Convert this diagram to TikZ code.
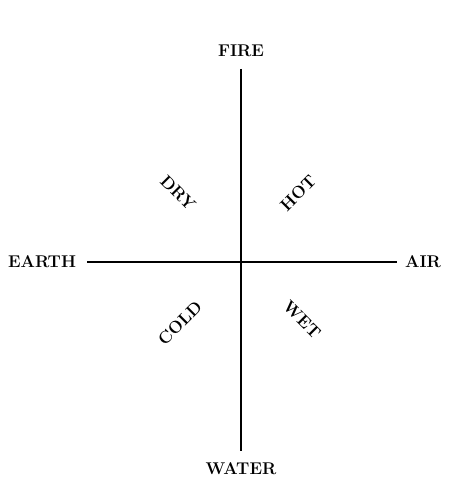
\documentclass[tikz,border=0pt]{standalone}
\usepackage{tikz}

\begin{document}
\begin{tikzpicture}[x=1pt, y=1pt, lbl/.style={font=\fontsize{17}{19}\selectfont\bfseries}]
    \useasboundingbox (0,0) rectangle (448,484);
    \coordinate (top) at (241,415);
    \coordinate (bottom) at (241,33);
    \coordinate (left) at (87,222);
    \coordinate (right) at (397,222);
    \draw[line width=2.8pt] (top) -- (bottom);
    \draw[line width=2.8pt] (left) -- (right);
    \node[lbl] (fire) at (241,433) {FIRE};
    \node[lbl] (water) at (241,15) {WATER};
    \node[lbl] (earth) at (42,222) {EARTH};
    \node[lbl] (air) at (423,222) {AIR};
    \foreach \name/\x/\y/\ang/\lab in {dry/178/291/-45/DRY, hot/298/291/45/HOT,
                                     cold/180/161/45/COLD, wet/302/164/-45/WET}
      \node[lbl, rotate=\ang] (\name) at (\x, \y) {\lab};
  \end{tikzpicture}
\end{document}
